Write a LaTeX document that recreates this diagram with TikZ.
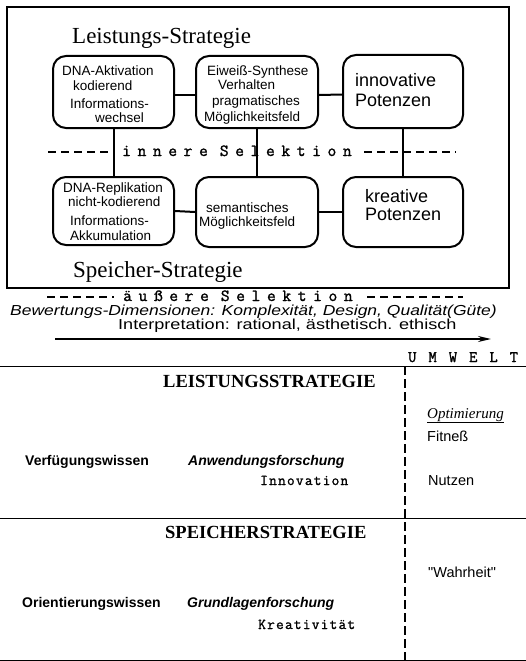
\documentclass[tikz,border=0pt]{standalone}
\usepackage{graphicx}
\usepackage{fontspec}
\setmainfont{Liberation Serif}
\setsansfont{Liberation Sans}
\newfontfamily\tyb[LetterSpace=8,FakeBold=1.2]{Latin Modern Mono}
\newfontfamily\tyu[LetterSpace=24,FakeBold=1.5]{Latin Modern Mono}
\newfontfamily\tysel[LetterSpace=39,FakeBold=1.5]{Latin Modern Mono}
\usetikzlibrary{arrows.meta}
\begin{document}
\begin{tikzpicture}[x=1pt,y=-1pt,
  rbox/.style={draw, line width=2pt, rounded corners=13pt, inner sep=0pt},
  conn/.style={line width=2pt},
  sel/.style={line width=1.3pt, dash pattern=on 8pt off 5pt},
  tx/.style={anchor=base west, inner sep=0pt, font=\sffamily\fontsize{13.5}{13.5}\selectfont},
  big/.style={anchor=base west, inner sep=0pt, font=\sffamily\fontsize{18}{18}\selectfont},
  hd/.style={anchor=base west, inner sep=0pt, font=\rmfamily\fontsize{23}{23}\selectfont},
  seltx/.style={anchor=base west, inner sep=0pt, font=\tysel\fontsize{17}{17}\selectfont},
  caps/.style={anchor=base west, inner sep=0pt, font=\rmfamily\bfseries\fontsize{18.5}{18.5}\selectfont},
  tb/.style={anchor=base west, inner sep=0pt, font=\sffamily\bfseries\fontsize{14}{14}\selectfont},
  tbi/.style={anchor=base west, inner sep=0pt, font=\sffamily\bfseries\itshape\fontsize{14}{14}\selectfont},
  tr/.style={anchor=base west, inner sep=0pt, font=\sffamily\fontsize{14.5}{14.5}\selectfont},
  tt/.style={anchor=base west, inner sep=0pt, font=\tyb\fontsize{15}{15}\selectfont},
  tline/.style={line width=1pt},
  vdash/.style={line width=1.2pt, dash pattern=on 9pt off 4pt}
]
\useasboundingbox (0,0) rectangle (526,661);

% outer frame
\draw[line width=1.5pt] (7,7) rectangle (509,288);

\node[hd] (lsh) at (72,44) {Leistungs-Strategie};
\node[hd] (ssh) at (73,277) {Speicher-Strategie};

% boxes
\node[rbox, minimum width=121pt, minimum height=72pt] (b1) at (113.5,92) {};
\node[rbox, minimum width=122pt, minimum height=72pt] (b2) at (257,92) {};
\node[rbox, minimum width=120pt, minimum height=73pt] (b3) at (403,91.5) {};
\node[rbox, minimum width=121pt, minimum height=68pt] (c1) at (113.5,211) {};
\node[rbox, minimum width=122pt, minimum height=70pt] (c2) at (257,212) {};
\node[rbox, minimum width=120pt, minimum height=70pt] (c3) at (403,212) {};

% connectors
\draw[conn] ([yshift=-3pt]b1.east) -- ([yshift=-3pt]b2.west);
\draw[conn] ([yshift=-3pt]b2.east) -- ([yshift=-3pt]b3.west);
\draw[conn] (c1.east) -- (c2.west);
\draw[conn] (c2.east) -- (c3.west);
\draw[conn] (b1.south) -- (c1.north);
\draw[conn] (b2.south) -- (c2.north);
\draw[conn] (b3.south) -- (c3.north);

% box texts top
\node[tx] (b1a) at (62,75) {DNA-Aktivation};
\node[tx] (b1b) at (73,90) {kodierend};
\node[tx] (b1c) at (70,108) {Informations-};
\node[tx] (b1d) at (95,122) {wechsel};
\node[tx] (b2a) at (207,75) {Eiweiß-Synthese};
\node[tx] (b2b) at (218,89) {Verhalten};
\node[tx] (b2c) at (212,105) {pragmatisches};
\node[tx] (b2d) at (204,121) {Möglichkeitsfeld};
\node[big] (b3a) at (355,86) {innovative};
\node[big] (b3b) at (355,106) {Potenzen};

% box texts bottom
\node[tx] (c1a) at (63,192) {DNA-Replikation};
\node[tx] (c1b) at (68,206) {nicht-kodierend};
\node[tx] (c1c) at (70,225) {Informations-};
\node[tx] (c1d) at (70,240) {Akkumulation};
\node[tx] (c2a) at (206,212) {semantisches};
\node[tx] (c2b) at (199,226) {Möglichkeitsfeld};
\node[big] (c3a) at (365,202) {kreative};
\node[big] (c3b) at (365,220) {Potenzen};

% innere Selektion
\node[seltx] (isel) at (122,156) {innere\hspace{12pt}Selektion};
\coordinate (il0) at (48,152);
\coordinate (ir0) at (364,152);
\coordinate (ir1) at (456,152);
\draw[sel] (il0) -- (il0 -| b1.south);
\draw[sel] (ir0) -- (ir1);

% aeussere Selektion
\node[seltx] (asel) at (123,301) {äußere\hspace{12pt}Selektion};
\coordinate (al0) at (47,297);
\coordinate (al1) at (114,297);
\coordinate (ar0) at (367,297);
\coordinate (ar1) at (463,297);
\draw[sel] (al0) -- (al1);
\draw[sel] (ar0) -- (ar1);

\node[anchor=base west, inner sep=0pt, font=\sffamily\itshape\fontsize{14.5}{14.5}\selectfont] (bew) at (10,315)
  {\scalebox{1.206}[1]{Bewertungs-Dimensionen: Komplexität, Design, Qualität(Güte)}};
\node[anchor=base west, inner sep=0pt, font=\sffamily\fontsize{14.5}{14.5}\selectfont] (interp) at (118,329)
  {\scalebox{1.248}[1]{Interpretation: rational, ästhetisch. ethisch}};

% arrow
\coordinate (as) at (55,339);
\coordinate (ae) at (491,339);
\draw[line width=1.8pt, -{Stealth[length=13pt,width=6pt]}] (as) -- (ae);

% UMWELT
\node[anchor=base west, inner sep=0pt, font=\tyu\fontsize{16}{16}\selectfont] (umw) at (408,362) {U M W E L T};

% table lines
\coordinate (h1l) at (0,366); \coordinate (h1r) at (526,366);
\coordinate (h2l) at (0,518); \coordinate (h2r) at (526,518);
\coordinate (h3l) at (0,660); \coordinate (h3r) at (526,660);
\coordinate (vt) at (405,366); \coordinate (vb) at (405,661);
\draw[tline] (h1l) -- (h1r);
\draw[tline] (h2l) -- (h2r);
\draw[tline] (h3l) -- (h3r);
\draw[vdash] (vt) -- (vb);

% table texts
\node[caps] (lst) at (163,387) {LEISTUNGSSTRATEGIE};
\node[anchor=base west, inner sep=0pt, font=\rmfamily\itshape\fontsize{15}{15}\selectfont] (opt) at (427,418) {\underline{Optimierung}};
\node[tr] (fit) at (427,441) {Fitneß};
\node[tb] (vfw) at (25,465) {Verfügungswissen};
\node[tbi] (awf) at (188,465) {Anwendungsforschung};
\node[tt] (inn) at (260,485) {Innovation};
\node[tr] (nut) at (428,485) {Nutzen};

\node[caps] (sst) at (165,538) {SPEICHERSTRATEGIE};
\node[tr] (wah) at (428,577) {\textquotedbl Wahrheit\textquotedbl};
\node[tb] (orw) at (22,607) {Orientierungswissen};
\node[tbi] (glf) at (187,607) {Grundlagenforschung};
\node[tt] (kre) at (258,629) {Kreativität};
\end{tikzpicture}
\end{document}
